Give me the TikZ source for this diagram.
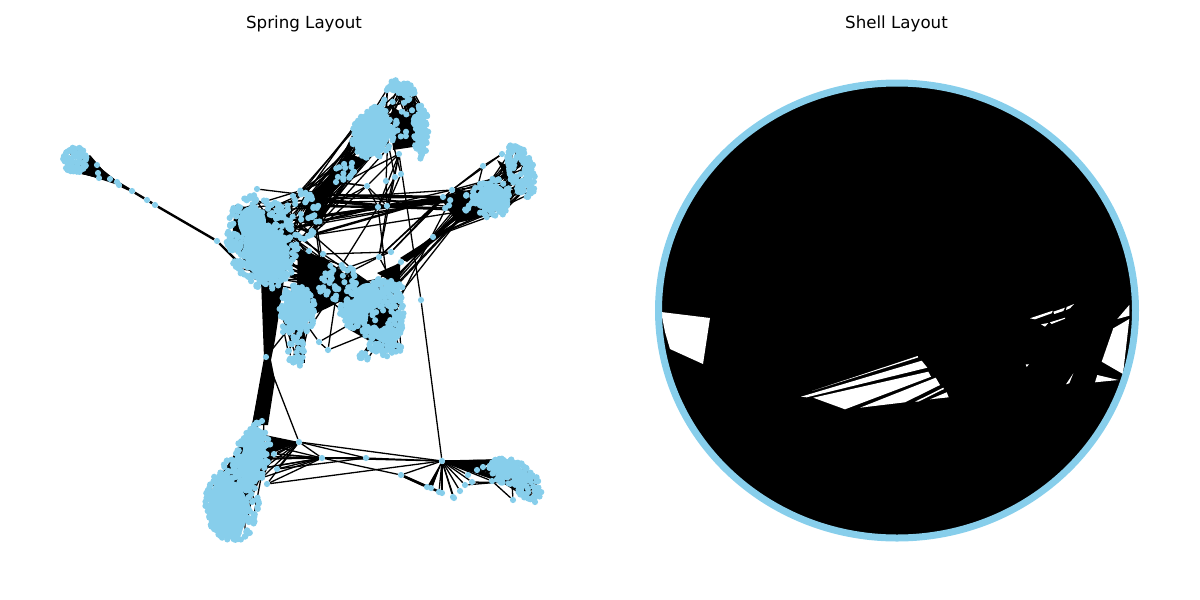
\documentclass[tikz,border=0pt]{standalone}
\usepackage{fontspec}
\setmainfont{DejaVu Sans}
\usetikzlibrary{backgrounds}
\definecolor{nodeblue}{HTML}{87CEEB}
\tikzset{
  vert/.style={circle, fill=nodeblue, inner sep=0pt, minimum size=6.2pt},
  edge/.style={black, line width=1.3pt},
  bundle/.style={black, line width=2.4pt},
  titletext/.style={font=\fontsize{16.67}{20}\selectfont, text=black},
  gap/.style={fill=white, draw=none},
  core/.style={fill=nodeblue, draw=none}
}
\newcommand{\singleNodes}{s1/97/165, s2/98/173, s3/99/178, s4/110/179, s5/117/182, s6/119/185, s7/132/191, s8/147/200, s9/155/205, s10/217/241,
  s11/367/186, s12/378/207, s13/387/206, s14/386/181, s15/395/177, s16/401/174, s17/399/154, s18/483/166, s19/452/190, s20/502/154,
  s21/443/197, s22/433/237, s23/401/262, s24/391/252, s25/379/257, s26/323/254, s27/309/251, s28/421/300, s29/266/357, s30/319/342,
  s31/328/350, s32/283/332, s33/336/182, s34/312/199, s35/293/196, s36/257/189, s37/299/442, s38/322/458, s39/366/458, s40/401/475,
  s41/442/461, s42/427/487, s43/442/493, s44/454/498, s45/460/491, s46/465/485, s47/472/482, s48/477/470, s49/483/467, s50/492/481,
  s51/513/500, s52/267/484, s53/277/469, s54/274/454, s55/262/421, s56/535/502, s57/431/488, s58/439/492, s59/453/497, s60/468/475, s61/240/264}
\newcommand{\clusterSpecs}{ha/75/160/12/13/0/70, aa/373/133/21/27/20/110, ab/403/88/14/7/20/50, ac/421/132/8/27/0/70, ad/398/112/18/30/0/30,
  ae/345/170/10/11/30/14, ea/521/170/13/28/-15/120, eb/492/198/20/20/-30/80, ec/465/203/22/8/-10/14, ba/262/242/35/48/-15/230, bc/270/255/25/30/10/70,
  bb/303/215/18/25/0/36, ca/297/310/19/25/0/110, cb/296/350/8/14/0/26, cc/297/363/9/3/15/10, da/338/282/21/18/0/50,
  db/382/315/22/38/0/170, dg/352/313/13/15/0/60, dc/393/292/11/10/0/35, dd/380/352/22/7/-10/35, fa/253/455/17/33/10/110, fm/240/472/18/18/0/50, fb/232/505/27/36/-5/220,
  ga/510/472/22/13/15/100, gb/530/488/13/14/0/45}
\begin{document}
\begin{tikzpicture}[x=1pt, y=-1pt]
  \useasboundingbox (0,0) rectangle (1200,600);
  \pgfmathsetseed{4039}
  \node[titletext] (springtitle) at (304,23.5) {Spring Layout};
  \node[titletext] (shelltitle) at (896.5,23.5) {Shell Layout};
  % dense centres
  \fill[core] (372,133) ellipse [x radius=18, y radius=25, rotate=-20];
  \fill[core] (421,132) ellipse [x radius=6, y radius=24];
  \fill[core] (492,198) ellipse [x radius=15, y radius=14];
  \fill[core] (266,252) ellipse [x radius=22, y radius=30, rotate=15];
  \fill[core] (252,222) ellipse [x radius=14, y radius=16];
  \fill[core] (297,310) ellipse [x radius=14, y radius=20];
  \fill[core] (253,455) ellipse [x radius=11, y radius=28, rotate=-10];
  \fill[core] (228,510) ellipse [x radius=20, y radius=28];
  \fill[core] (368,297) ellipse [x radius=14, y radius=14];
  \fill[core] (352,313) ellipse [x radius=10, y radius=11];
  \fill[core] (388,335) ellipse [x radius=12, y radius=9];
  \fill[core] (508,470) ellipse [x radius=16, y radius=8, rotate=-15];
  % spring nodes
  \foreach \n/\x/\y in \singleNodes { \node[vert] (\n) at (\x,\y) {}; }
  \foreach \cl/\cx/\cy/\rx/\ry/\rot/\num in \clusterSpecs {
    \foreach \i in {1,...,\num} {
      \pgfmathsetmacro{\ang}{rnd*360}
      \pgfmathsetmacro{\rad}{rnd^0.35}
      \pgfmathsetmacro{\px}{\cx+\rad*(\rx*cos(\ang)*cos(\rot)-\ry*sin(\ang)*sin(\rot))}
      \pgfmathsetmacro{\py}{\cy+\rad*(\rx*cos(\ang)*sin(\rot)+\ry*sin(\ang)*cos(\rot))}
      \node[vert] (\cl-\i) at (\px,\py) {};
    }
  }
  \begin{pgfonlayer}{background}
    % spring edges, solid parts
    \fill (347,153) -- (367,160) -- (325,200) -- (322,227) -- (300,222) -- (310,200) -- cycle;
    \fill (392,107) -- (417,120) -- (413,147) -- (393,150) -- cycle;
    \fill (440,197) -- (483,187) -- (483,217) -- (457,223) -- cycle;
    \fill (497,160) -- (510,167) -- (523,187) -- (507,180) -- cycle;
    \fill (298,250) -- (327,260) -- (353,280) -- (350,297) -- (317,313) -- (297,283) -- cycle;
    \fill (377,273) -- (400,263) -- (400,287) -- cycle;
    \fill (298,330) -- (305,330) -- (305,363) -- (298,363) -- cycle;
    \fill (261,280) -- (284,280) -- (275,340) -- (271,360) -- (275,380) -- (268,425) -- (252,425) -- (260,380) -- (264,358) -- cycle;
    \fill (235,205) -- (290,215) -- (295,260) -- (255,280) -- (232,240) -- cycle;
    \fill (265,435) -- (299,442) -- (268,455) -- cycle;
    \fill (442,461) -- (490,462) -- (480,470) -- cycle;
    \fill (442,461) -- (427,487) -- (432,489) -- cycle;
    \fill (90,155) -- (115,184) -- (72,170) -- cycle;
    \fill (352,270) -- (395,300) -- (400,335) -- (385,350) -- (350,330) -- (340,300) -- cycle;
    \fill (250,430) -- (265,440) -- (250,500) -- (225,510) -- (220,480) -- cycle;
    \fill (510,470) -- (535,480) -- (530,495) -- (515,485) -- cycle;
    \fill (452,225) -- (461,221) -- (407,262) -- (400,258) -- cycle;
    % spring edges between clusters
    \foreach \a/\b/\num in {aa/bb/30, ab/ac/30, ad/aa/30, ae/bb/10, ea/eb/50, ec/bb/8, ec/dc/8, ba/da/35, ba/bb/30, da/db/35,
      db/dd/20, dc/db/20, ca/cb/20, ca/da/35, fa/fb/70, ga/gb/25} {
      \foreach \i in {1,...,\num} { \draw[edge] (\a-\i) -- (\b-\i); }
    }
    \foreach \i in {1,...,25} { \draw[edge] (s41) -- (ga-\i); \draw[edge] (s1) -- (ha-\i); \draw[edge] (s4) -- (ha-\i); }
    \foreach \i in {1,...,12} { \draw[edge] (s5) -- (ha-\i); \draw[edge] (s21) -- (eb-\i); \draw[edge] (s19) -- (eb-\i); \draw[edge] (s22) -- (eb-\i); }
    \foreach \i in {1,...,8} { \draw[edge] (s12) -- (ec-\i); \draw[edge] (s13) -- (ec-\i); \draw[edge] (s37) -- (fa-\i); \draw[edge] (s38) -- (fa-\i); \draw[edge] (s54) -- (fa-\i); }
    \foreach \a/\b in {s9/s10, s7/s8, s8/s9, s5/s7, s6/s7, s10/s61, s21/bb-2, s21/bb-8, s21/bb-15, s12/bb-5, s12/bb-11, s13/bb-20, s22/s23, s42/s40, s43/s40} { \draw[bundle] (\a) -- (\b); }
    \foreach \a/\b in {s11/s13, s11/s12, s11/s17, s12/s15, s13/s14, s13/s16, s12/s17, s13/s17, s17/s25, s13/s25, s26/s24, s34/s12, s34/s17, s11/bb-1,
      s24/s19, s25/s21, s24/s21, s25/s19, s18/s19, s20/s19, s18/eb-1, s20/s18, s17/s28, s28/s41, s26/da-2, s34/da-4, s34/da-9, s33/s11, s14/aa-1, s16/aa-2, s15/aa-3,
      s30/s31, s30/ca-4, s31/db-5, s31/da-6, s30/db-7, s32/ca-9, s29/s37, s29/ba-5, s29/ca-8, s29/fa-1, s29/fa-3, s55/s29, s29/fm-2, s29/fm-7,
      s37/s38, s37/s39, s37/s41, s38/s39, s39/s41, s38/s41, s38/s40, s40/s41, s52/s41, s53/s38, s53/s37, s54/s37, s54/s38, s52/s38, s52/s37, s53/s39,
      s41/s43, s41/s44, s41/s45, s41/s46, s41/s47, s41/s48, s41/s49, s41/s50, s41/s57, s41/s58, s41/s59, s41/s60, s50/s51, s51/ga-3, s56/gb-2, s46/ga-6, s47/ga-8,
      s34/ba-7, s36/bb-3, s35/bb-5, s12/db-3, s12/da-3, s23/db-11, s23/dc-1, s23/dc-2, s23/dc-3, s24/da-5, s25/da-7, s25/dc-4,
      s21/s34, s21/s12, s21/s13, s19/s12, s19/bb-9, s13/bb-12, s33/aa-5, s33/bb-6, s33/bb-14, s11/bb-16, s11/s33} { \draw[edge] (\a) -- (\b); }
    % shell layout
    \fill (897,310.5) ellipse [x radius=238, y radius=227];
    \fill[gap] (661,312) -- (710,318) -- (703,364) -- (670,349) -- (665,332) -- cycle;
    \fill[gap] (917.7,356) -- (918,357.5) -- (812,391) -- cycle;
    \fill[gap] (801,396.7) -- (921.7,360.7) -- (927.3,367.7) -- (806.7,397.3) -- cycle;
    \fill[gap] (813.3,397.7) -- (928.3,371.7) -- (931,376.7) -- (845,409.3) -- cycle;
    \fill[gap] (860,407.7) -- (935.7,377.7) -- (940,385) -- (905,402.3) -- cycle;
    \fill[gap] (915,401.7) -- (943.3,387.7) -- (944,389) -- (918.3,401.7) -- cycle;
    \fill[gap] (930,399.3) -- (946.7,392.3) -- (948.7,397.3) -- cycle;
    \fill[gap] (1030,318.3) -- (1052.7,310.7) -- (1051.7,313.3) -- (1035,319.3) -- cycle;
    \fill[gap] (1053.3,311.7) -- (1065,307.7) -- (1063.3,311) -- (1054.3,314) -- cycle;
    \fill[gap] (1066.7,307) -- (1074,304) -- (1070,308.3) -- (1066,310) -- cycle;
    \fill[gap] (1041,324.3) -- (1048.3,323) -- (1045,326.7) -- cycle;
    \fill[gap] (1050,322.3) -- (1065,317.7) -- (1065,318.7) -- (1051.7,324) -- cycle;
    \fill[gap] (1025.7,364.3) -- (1029,364.3) -- (1026.7,367) -- cycle;
    \fill[gap] (1066,384.3) -- (1073.3,373.3) -- (1069.3,383.3) -- cycle;
    \fill[gap] (1101.7,361.7) -- (1113.3,328.3) -- (1129.3,319) -- (1123,374) -- cycle;
    \fill[gap] (1129.3,305) -- (1117.3,319) -- (1129.3,315.7) -- cycle;
    \fill[gap] (1095,382.3) -- (1097.3,375) -- (1118.3,380) -- cycle;
    \draw[nodeblue, line width=7pt] (897,310.5) ellipse [x radius=238.5, y radius=227.5];
  \end{pgfonlayer}
\end{tikzpicture}
\end{document}
